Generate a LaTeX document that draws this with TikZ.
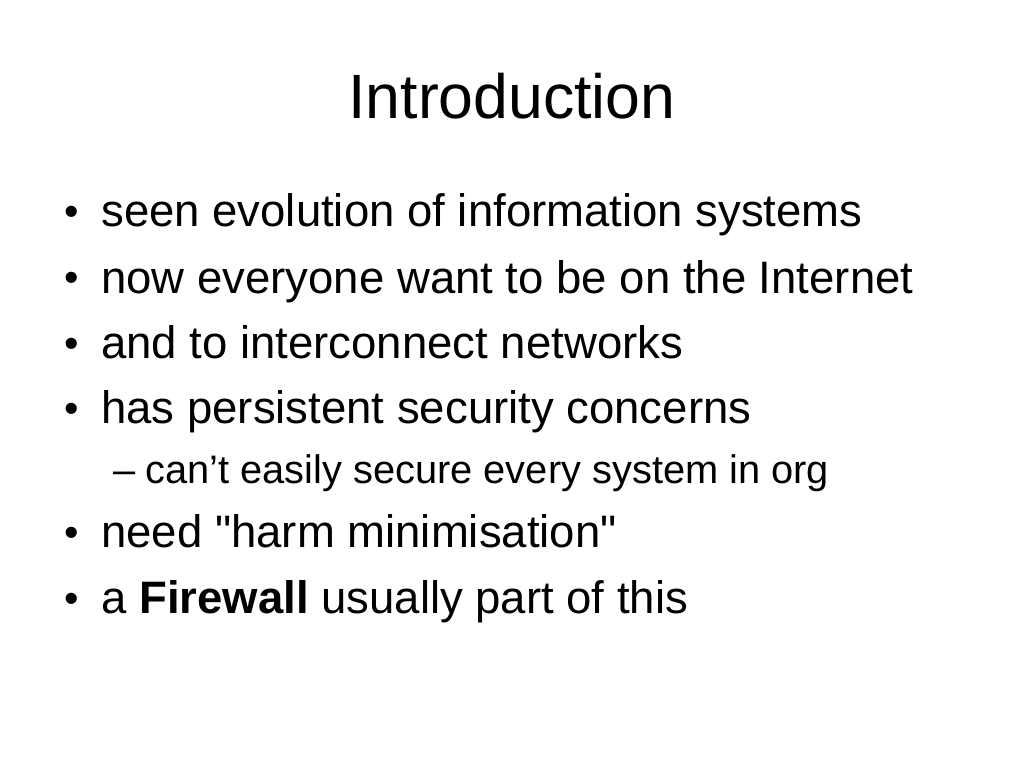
\documentclass[tikz,border=0pt]{standalone}
\usepackage{fontspec}
\setmainfont{Liberation Sans}[Ligatures=TeXOff]
\usepackage{tikz}
\usetikzlibrary{positioning}

\tikzset{
  slidetitle/.style={anchor=base,inner sep=0pt,font=\fontsize{44}{50}\selectfont},
  bulletmark/.style={anchor=base west,inner sep=0pt,font=\fontsize{29}{34}\selectfont},
  bullettext/.style={anchor=base west,inner sep=0pt,font=\fontsize{32}{38}\selectfont},
  subtext/.style={anchor=base west,inner sep=0pt,font=\fontsize{28}{34}\selectfont}
}

\begin{document}
\begin{tikzpicture}[x=0.703125pt,y=-0.703125pt]
  \fill[white] (0,0) rectangle (1024,768);
  \useasboundingbox (0,0) rectangle (1024,768);
  \node[slidetitle] (title) at (512,119) {Introduction};
  % top level points
  \foreach \y/\txt [count=\i] in {227/seen evolution of information systems,
      293/now everyone want to be on the Internet,
      358/and to interconnect networks,
      423/has persistent security concerns,
      547/need "harm minimisation",
      613/{a \textbf{Firewall} usually part of this}} {
    \node[bulletmark] (dot\i) at (64,\y-1) {•};
    \node[bullettext] (item\i) at (101,\y) {\txt};
  }
  % second level
  \node[subtext] (subdash) at (113,483) {–};
  \node[subtext] (subitem) at (145,483) {can’t easily secure every system in org};
\end{tikzpicture}
\end{document}
